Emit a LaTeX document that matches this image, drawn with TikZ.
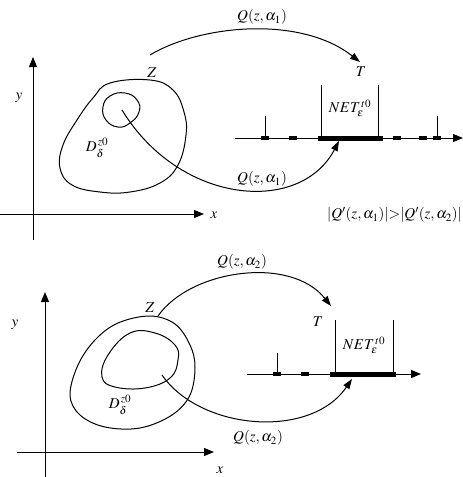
\documentclass[tikz,border=0pt]{standalone}
\usepackage{mathptmx}
\usetikzlibrary{arrows.meta}
\tikzset{
  lbl/.style={inner sep=0pt, font=\fontsize{15}{17}\selectfont},
  axis/.style={line width=1pt, -{Triangle[length=10pt,width=8pt]}},
  flow/.style={line width=1pt, -{Triangle[length=10pt,width=7pt]}},
  loop/.style={line width=1pt},
  thin line/.style={line width=1pt},
  heavy/.style={line width=5pt},
  dashmark/.style={line width=3.2pt}
}
\begin{document}
\begin{tikzpicture}[x=1pt,y=-1pt]
\useasboundingbox (0,0) rectangle (463,477);
% ================= TOP PANEL =================
\coordinate (yb1) at (33,240); \coordinate (yt1) at (33,57);
\coordinate (xl1) at (0,214); \coordinate (xr1) at (204,214);
\draw[axis] (yb1) -- (yt1);
\draw[axis] (xl1) -- (xr1);
\node[lbl] (xlab1) at (214,215) {$x$};
\node[lbl] (ylab1) at (19,98) {$y$};
% outer region
\draw[loop] plot[smooth cycle, tension=0.7] coordinates {(110,83) (150,80) (173,90) (184,112) (186,135) (178,165) (160,183) (130,192) (100,192) (72,185) (60,168) (63,145) (77,120) (93,98)};
% inner region
\draw[loop] plot[smooth cycle, tension=0.8] coordinates {(110,96) (125,93) (137,100) (139,112) (130,123) (118,127) (106,120) (103,107)};
\node[lbl] (D1) at (97,148) {$D_{\delta}^{\,z0}$};
\node[lbl] (Z1) at (152,73) {$Z$};
\node[lbl] (T1) at (361,72) {$T$};
% number line
\coordinate (nl1) at (235,138); \coordinate (nr1) at (463,138);
\draw[axis] (nl1) -- (nr1);
\coordinate (ha1) at (318,138); \coordinate (hb1) at (383,138);
\draw[heavy] (ha1) -- (hb1);
\foreach \xx in {265,293,397,423,437} \draw[dashmark] (\xx-4,138) -- (\xx+4,138);
\draw[thin line] (321,138) -- (321,85);
\draw[thin line] (378,138) -- (378,85);
\draw[thin line] (265,138) -- (265,116);
\draw[thin line] (437,138) -- (437,116);
\node[lbl] (N1) at (350,108) {$NET_{\varepsilon}^{\,t0}$};
% flows
\coordinate (s1) at (150,55); \coordinate (e1) at (360,62);
\draw[flow] (s1) .. controls (200,25) and (300,15) .. (e1);
\node[lbl] (q1a) at (262,17) {$Q(z,\alpha_1)$};
\coordinate (s2) at (122,110); \coordinate (e2) at (339,141);
\draw[flow] (s2) .. controls (180,205) and (300,215) .. (e2);
\node[lbl] (q1b) at (262,179) {$Q(z,\alpha_1)$};
\node[lbl, anchor=east] (ineq) at (462,215) {$|Q'(z,\alpha_1)|{>}|Q'(z,\alpha_2)|$};
% ================= BOTTOM PANEL =================
\coordinate (yb2) at (45,477); \coordinate (yt2) at (45,292);
\coordinate (xl2) at (17,452); \coordinate (xr2) at (214,452);
\draw[axis] (yb2) -- (yt2);
\draw[axis] (xl2) -- (xr2);
\node[lbl] (xlab2) at (220,470) {$x$};
\node[lbl] (ylab2) at (15,325) {$y$};
\draw[loop] plot[smooth cycle, tension=0.6] coordinates {(118,323) (150,316) (175,324) (190,345) (195,367) (190,395) (172,415) (140,428) (105,427) (80,415) (70,395) (78,365) (95,340)};
\draw[loop] plot[smooth cycle, tension=0.7] coordinates {(130,333) (155,333) (175,345) (178,360) (170,378) (145,388) (115,387) (102,377) (108,355)};
\node[lbl] (D2) at (120,405) {$D_{\delta}^{\,z0}$};
\node[lbl] (Z2) at (150,308) {$Z$};
\node[lbl] (T2) at (318,322) {$T$};
\coordinate (nl2) at (247,374); \coordinate (nr2) at (421,374);
\draw[axis] (nl2) -- (nr2);
\coordinate (ha2) at (330,374); \coordinate (hb2) at (396,374);
\draw[heavy] (ha2) -- (hb2);
\foreach \xx in {277,305} \draw[dashmark] (\xx-4,374) -- (\xx+4,374);
\draw[thin line] (335,374) -- (335,320);
\draw[thin line] (393,374) -- (393,320);
\draw[thin line] (277,374) -- (277,353);
\node[lbl] (N2) at (364,345) {$NET_{\varepsilon}^{\,t0}$};
\coordinate (s3) at (158,316); \coordinate (e3) at (331,306);
\draw[flow] (s3) .. controls (190,270) and (290,255) .. (e3);
\node[lbl] (q2a) at (242,262) {$Q(z,\alpha_2)$};
\coordinate (s4) at (162,375); \coordinate (e4) at (352,379);
\draw[flow] (s4) .. controls (200,430) and (310,440) .. (e4);
\node[lbl] (q2b) at (258,438) {$Q(z,\alpha_2)$};
\end{tikzpicture}
\end{document}
